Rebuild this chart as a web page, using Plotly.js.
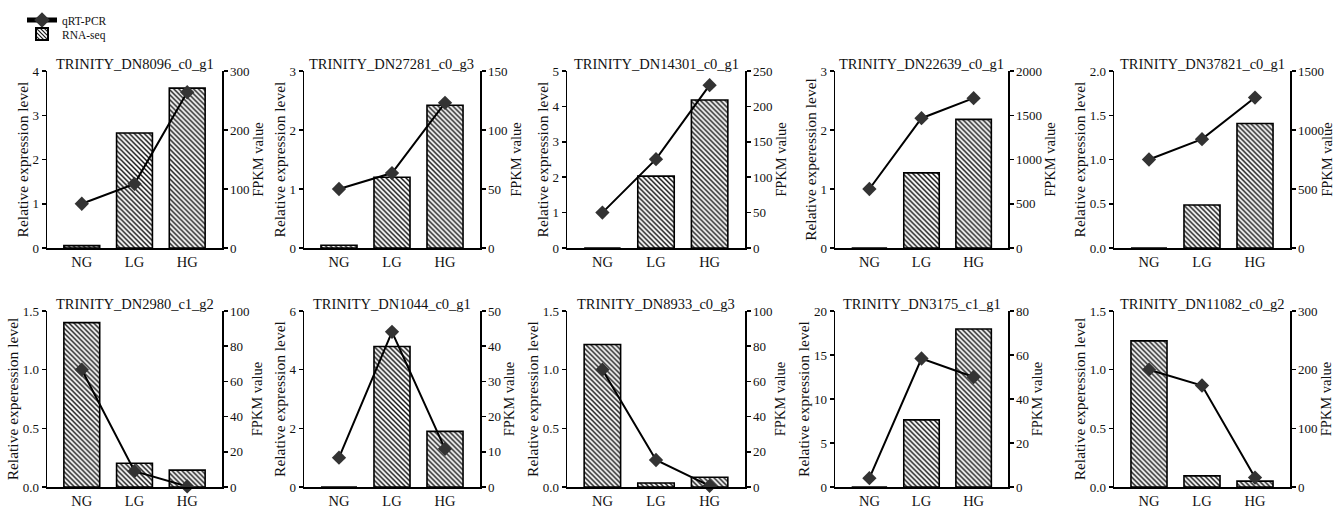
<!DOCTYPE html>
<html><head><meta charset="utf-8">
<script src="https://cdn.plot.ly/plotly-3.0.1.min.js"></script>
<style>html,body{margin:0;padding:0;background:#fff}</style>
</head><body><div id="chart" style="width:1335px;height:508px"></div>
<script>
const categories = ['NG', 'LG', 'HG'];
const genes = ['TRINITY_DN8096_c0_g1', 'TRINITY_DN27281_c0_g3', 'TRINITY_DN14301_c0_g1', 'TRINITY_DN22639_c0_g1', 'TRINITY_DN37821_c0_g1',
               'TRINITY_DN2980_c1_g2', 'TRINITY_DN1044_c0_g1', 'TRINITY_DN8933_c0_g3', 'TRINITY_DN3175_c1_g1', 'TRINITY_DN11082_c0_g2'];
// qRT-PCR relative expression (left axis)
const qrtpcr = [
  [1.0, 1.45, 3.52], [1.0, 1.27, 2.46], [1.0, 2.51, 4.6], [1.0, 2.2, 2.54], [1.0, 1.23, 1.70],
  [1.0, 0.135, 0.005], [1.0, 5.29, 1.3], [1.0, 0.23, 0.01], [1.0, 14.6, 12.5], [1.0, 0.865, 0.08]
];
// RNA-seq FPKM (right axis)
const rnaseq = [
  [4, 195, 271], [2.3, 60, 121], [0, 101.5, 209], [0, 849, 1453], [0, 365, 1055],
  [93.4, 13.5, 9.6], [0, 39.9, 15.8], [81, 2.3, 5.5], [0, 30.5, 71.8], [249, 19, 10]
];
const leftTitles = ['Relative expression level', 'Relative expression level', 'Relative expression level', 'Relative experession level', 'Relative expression level',
                    'Relative experession level', 'Relative expression level', 'Relative expression level', 'Relative expression level', 'Relative experession level'];
const rightTitle = 'FPKM value';
const leftMax = [4, 3, 5, 3, 2, 1.5, 6, 1.5, 20, 1.5];
const leftStep = [1, 1, 1, 1, 0.5, 0.5, 2, 0.5, 5, 0.5];
const rightMax = [300, 150, 250, 2000, 1500, 100, 50, 100, 80, 300];
const rightStep = [100, 50, 50, 500, 500, 20, 10, 20, 20, 100];
const legendNames = ['qRT-PCR', 'RNA-seq'];

const W = 1335, H = 508;
const FONT = 'Liberation Serif, Times New Roman, serif';
const colsPx = [[47, 222], [304, 480], [567, 745], [835, 1008], [1114, 1290]];
const rowsPx = [[71, 248], [311, 487]];

const data = [];
const legendBase = {x: 22 / W, xanchor: 'left', yanchor: 'middle', font: {family: FONT, size: 11.5, color: '#111'},
  bgcolor: 'rgba(0,0,0,0)', itemwidth: 30, itemsizing: 'constant'};
const layout = {
  width: W, height: H, margin: {l: 0, r: 0, t: 0, b: 0},
  paper_bgcolor: '#fff', plot_bgcolor: 'rgba(0,0,0,0)',
  font: {family: FONT, color: '#111', size: 13},
  showlegend: true,
  legend: Object.assign({}, legendBase, {y: 1 - 20 / H}),
  legend2: Object.assign({}, legendBase, {y: 1 - 34 / H}),
  annotations: []
};

for (let i = 0; i < 10; i++) {
  const col = colsPx[i % 5], row = rowsPx[Math.floor(i / 5)];
  const xd = [col[0] / W, col[1] / W];
  const yd = [1 - row[1] / H, 1 - row[0] / H];
  const xn = i + 1, yb = 2 * i + 1, yl = 2 * i + 2;
  const xk = 'xaxis' + (xn === 1 ? '' : xn);
  const ybk = 'yaxis' + (yb === 1 ? '' : yb);
  const ylk = 'yaxis' + yl;
  const xref = 'x' + (xn === 1 ? '' : xn);
  const ybref = 'y' + (yb === 1 ? '' : yb);
  const ylref = 'y' + yl;
  const dec = leftStep[i] < 1 ? '.1f' : 'd';

  layout[xk] = {domain: xd, anchor: ybref, type: 'category', categoryarray: categories, range: [-0.66, 2.66],
    showline: true, linecolor: '#000', linewidth: 1.5, ticks: '', showgrid: false, zeroline: false,
    tickfont: {family: FONT, size: 14.5, color: '#111'}, fixedrange: true};
  layout[ybk] = {domain: yd, anchor: xref, side: 'right', range: [0, rightMax[i]], dtick: rightStep[i], tick0: 0,
    showline: true, linecolor: '#000', linewidth: 1.5, ticks: 'outside', ticklen: 4, tickwidth: 1.5, tickcolor: '#000',
    showgrid: false, zeroline: false, tickfont: {family: FONT, size: 13, color: '#111'},
    title: {text: rightTitle, font: {family: FONT, size: 14.5, color: '#111'}, standoff: 3}};
  layout[ylk] = {domain: yd, anchor: xref, overlaying: ybref, side: 'left', range: [0, leftMax[i]], dtick: leftStep[i], tick0: 0,
    tickformat: dec, showline: true, linecolor: '#000', linewidth: 1.5, ticks: 'outside', ticklen: 4, tickwidth: 1.5, tickcolor: '#000',
    showgrid: false, zeroline: false, tickfont: {family: FONT, size: 13, color: '#111'},
    title: {text: leftTitles[i], font: {family: FONT, size: 15.5, color: '#111'}, standoff: 0}};

  data.push({type: 'bar', x: categories, y: rnaseq[i], xaxis: xref, yaxis: ybref, width: 0.68,
    name: legendNames[1], showlegend: i === 0, legend: 'legend2',
    marker: {color: '#fff', line: {color: '#000', width: 1.6},
      pattern: {shape: '\\', fgcolor: '#111', bgcolor: '#fff', size: 3.5, solidity: 0.42}},
    hoverinfo: 'skip'});
  data.push({type: 'scatter', mode: 'lines+markers', x: categories, y: qrtpcr[i], xaxis: xref, yaxis: ylref,
    name: legendNames[0], showlegend: i === 0, legend: 'legend', cliponaxis: false,
    line: {color: '#000', width: 2}, marker: {symbol: 'diamond', size: 11, color: '#333'}, hoverinfo: 'skip'});

  layout.annotations.push({text: genes[i], xref: 'paper', yref: 'paper', x: (xd[0] + xd[1]) / 2, y: yd[1],
    xanchor: 'center', yanchor: 'bottom', showarrow: false, yshift: -3,
    font: {family: FONT, size: 14.5, color: '#111'}});
}

Plotly.newPlot('chart', data, layout, {staticPlot: true});
</script></body></html>
